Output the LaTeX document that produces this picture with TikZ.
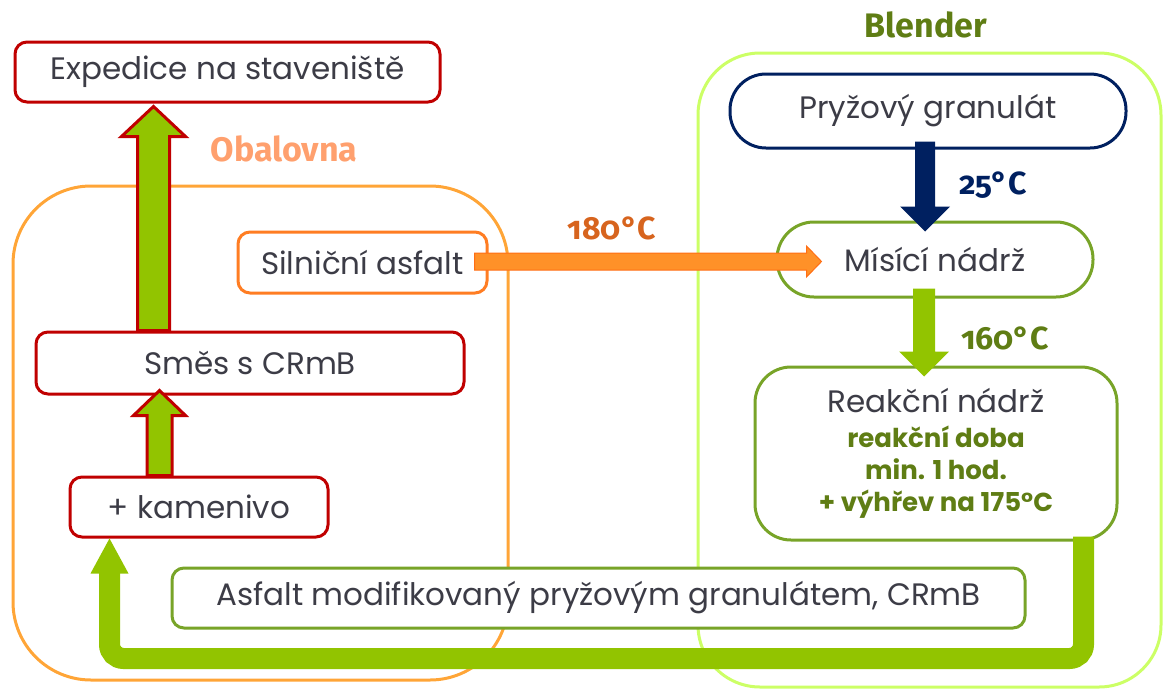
\documentclass[tikz,border=0pt]{standalone}
\usepackage{fontspec}
\setmainfont{Poppins}
\newfontfamily\labelfont[Numbers=OldStyle]{Fira Sans}
\usetikzlibrary{calc}

\definecolor{boxred}{RGB}{192,0,0}
\definecolor{silorange}{RGB}{255,125,35}
\definecolor{obalframe}{RGB}{255,165,55}
\definecolor{obalotext}{RGB}{255,160,110}
\definecolor{limeframe}{RGB}{204,255,102}
\definecolor{boxgreen}{RGB}{120,164,40}
\definecolor{flowgreen}{RGB}{146,196,0}
\definecolor{navy}{RGB}{0,32,96}
\definecolor{olive}{RGB}{95,125,20}
\definecolor{tempred}{RGB}{215,100,30}
\definecolor{arrfill}{RGB}{255,145,40}
\definecolor{arrorange}{RGB}{255,110,20}
\definecolor{txtgray}{RGB}{60,60,70}

% vertical block arrow: start, tip, half shaft, half head, head length, style
\newcommand{\flowarrow}[6]{%
  \draw[#6] let \p1=#1, \p2=#2, \n1={sign(\y2-\y1)} in
    ({\x1-#3},\y1) -- ({\x1-#3},{\y2-(\n1)*#5}) -- ({\x1-#4},{\y2-(\n1)*#5}) -- (\x1,\y2)
    -- ({\x1+#4},{\y2-(\n1)*#5}) -- ({\x1+#3},{\y2-(\n1)*#5}) -- ({\x1+#3},\y1) -- cycle;}
% bold lines in the reaction tank
\newcommand{\reactline}[1]{{\color{olive}\bfseries\fontsize{26}{32}\selectfont #1}}

\begin{document}
\begin{tikzpicture}[x=1pt,y=-1pt,line width=3pt,
  box/.style={draw, fill=white, rounded corners=12, inner sep=0pt, align=center,
    text=txtgray, font=\fontsize{31}{33}\selectfont},
  redbox/.style={box, draw=boxred},
  greenbox/.style={box, draw=boxgreen},
  lbl/.style={font=\labelfont\bfseries\fontsize{34}{40}\selectfont},
  temp/.style={font=\labelfont\bfseries\fontsize{32}{36}\selectfont}]
\useasboundingbox (0,0) rectangle (1163,689);

% Obalovna and Blender
\draw[obalframe, rounded corners=78] (13,186) rectangle (508,680);
\draw[limeframe, rounded corners=62] (698,53) rectangle (1161,687);
\node[lbl, text=obalotext] (obalovna) at (284,149) {Obalovna};
\node[lbl, text=olive] (blender) at (926,25) {Blender};

\node[redbox, minimum width=425pt, minimum height=60pt] (expedice) at (227.5,72) {Expedice na staveniště};
\node[box, draw=silorange, minimum width=249pt, minimum height=61pt] (silnicni) at (362.5,262.5) {Silniční asfalt};
\node[redbox, minimum width=428pt, minimum height=62pt] (smes) at (250,363) {Směs s CRmB};
\node[redbox, minimum width=258pt, minimum height=60pt] (kamenivo) at (199,507) {+ kamenivo};

\node[box, draw=navy, rounded corners=36, minimum width=396pt, minimum height=74pt] (pryzovy) at (928,111) {Pryžový granulát};
\node[greenbox, rounded corners=37, minimum width=316pt, minimum height=75pt] (misici) at (935,259.5) {Mísící nádrž};
\node[greenbox, rounded corners=36, minimum width=362pt, minimum height=173pt] (reakcni) at (936,453.5)
  {Reakční nádrž\\[2pt]
   \reactline{reakční doba}\\[-1pt] \reactline{min. 1 hod.}\\[-1pt] \reactline{+ výhřev na 175°C}};
\node[greenbox, minimum width=853pt, minimum height=60pt] (asfalt) at (598.5,598) {Asfalt modifikovaný pryžovým granulátem, CRmB};

% temperatures
\node[temp, text=tempred] (t180) at (612,228) {180°C};
\node[temp, text=navy] (t25) at (993,185) {25°C};
\node[temp, text=olive] (t160) at (1005,338) {160°C};

% flows
\coordinate (a1) at ($(smes.north west)+(119,0)$);
\flowarrow{(a1)}{($(a1 |- expedice.south)+(0,3)$)}{16pt}{32pt}{30pt}{draw=boxred, fill=flowgreen, line width=3pt}
\coordinate (a2) at ($(kamenivo.north west)+(91,0)$);
\flowarrow{(a2)}{($(a2 |- smes.south)+(0,-5)$)}{12.5pt}{26pt}{25pt}{draw=boxred, fill=flowgreen, line width=3pt}
\coordinate (a3) at ($(pryzovy.south)+(-3,-8)$);
\flowarrow{(a3)}{($(a3 |- misici.north)+(0,11)$)}{10pt}{25pt}{25pt}{fill=navy, draw=none}
\coordinate (a4) at ($(misici.south)+(-11,-10)$);
\flowarrow{(a4)}{($(a4 |- reakcni.north)+(0,11)$)}{11pt}{25pt}{25pt}{fill=flowgreen, draw=none}

\draw[draw=arrorange, fill=arrfill, line width=1pt] let \p1=($(silnicni.east)+(-14,-1)$), \p2=($(misici.west)+(46,0)$) in
  (\x1,{\y1-8.5pt}) -- ({\x2-15pt},{\y1-8.5pt}) -- ({\x2-15pt},{\y1-15.5pt}) -- (\x2,\y1)
  -- ({\x2-15pt},{\y1+15.5pt}) -- ({\x2-15pt},{\y1+8.5pt}) -- (\x1,{\y1+8.5pt}) -- cycle;

% CRmB back to the mixing plant
\coordinate (r1) at ($(reakcni.south east)+(-35,-5)$);
\coordinate (r2) at ($(kamenivo.south west)+(41,0)$);
\draw[flowgreen, line width=21pt, rounded corners=14] (r1) -- ($(r1 |- asfalt.south)+(0,29)$)
  -- ($(r2 |- asfalt.south)+(0,29)$) -- ($(r2)+(0,34)$);
\fill[flowgreen] ($(r2)+(-19,35)$) -- (r2) -- ($(r2)+(19,35)$) -- cycle;

\end{tikzpicture}
\end{document}
